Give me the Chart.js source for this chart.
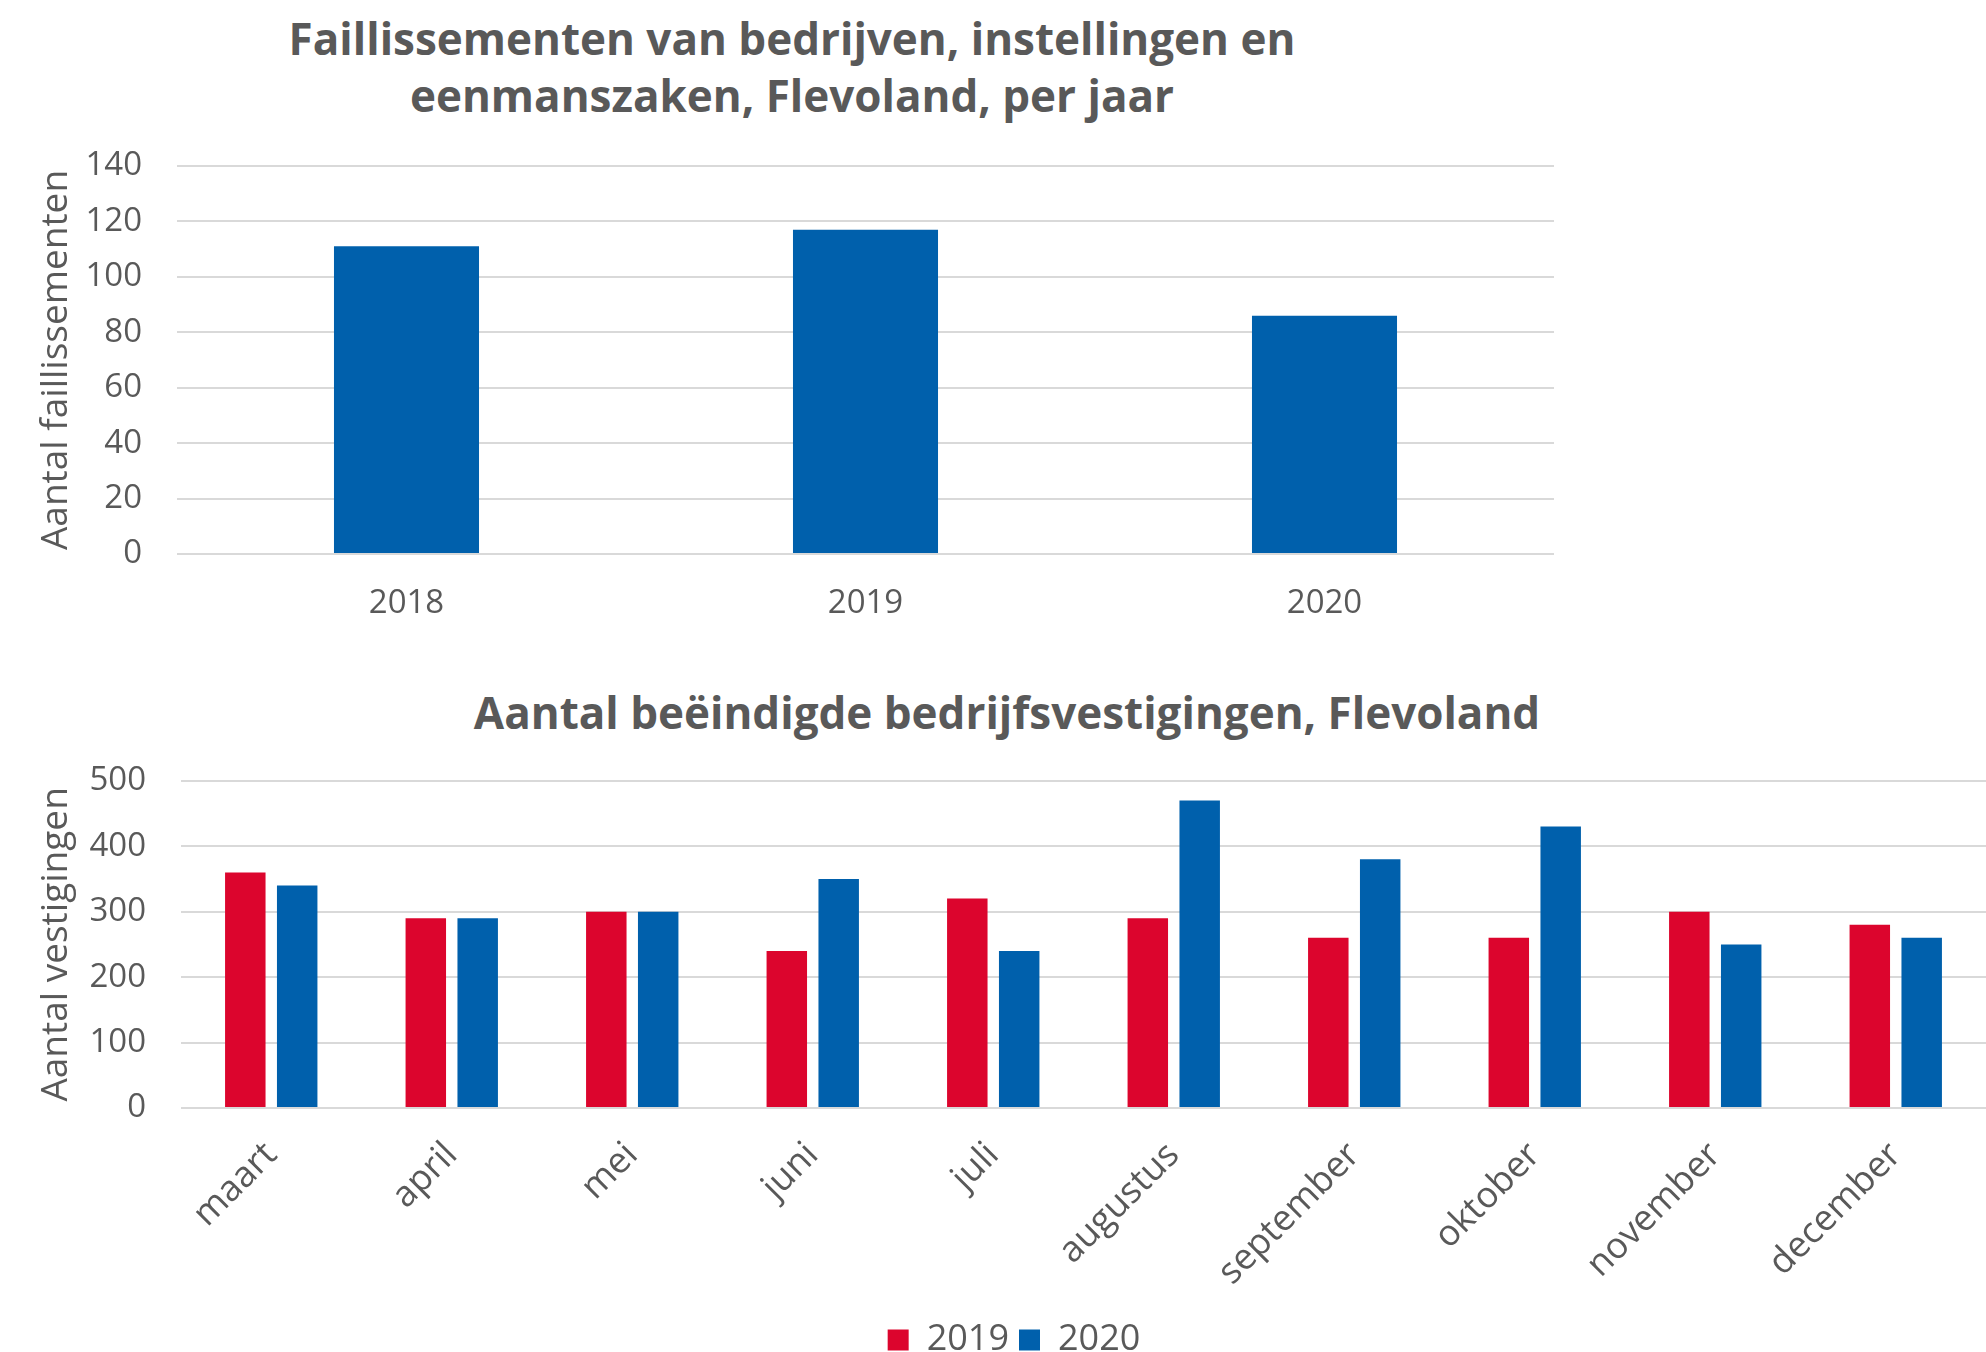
<!DOCTYPE html>
<html>
<head>
<meta charset="utf-8">
<script src="https://cdn.jsdelivr.net/npm/chart.js@4.4.1/dist/chart.umd.min.js"></script>
<style>
  html, body { margin: 0; padding: 0; background: #fff; width: 1986px; height: 1352px; overflow: hidden; position: relative; }
  body { font-family: "Open Sans", "Noto Sans", sans-serif; }
  .title { position: absolute; color: #595959; font-weight: 700; font-size: 44px; line-height: 57px; white-space: nowrap; text-align: center; transform: translateX(-50%); }
  canvas { position: absolute; left: 0; }
</style>
</head>
<body>
<div class="title" id="t1" style="left:792px; top:10px;">Faillissementen van bedrijven, instellingen en<br>eenmanszaken, Flevoland, per jaar</div>
<div class="title" id="t2" style="left:1007px; top:684px;">Aantal beëindigde bedrijfsvestigingen, Flevoland</div>
<canvas id="yearChart" width="1600" height="540" style="top:110px"></canvas>
<canvas id="monthChart" width="1986" height="642" style="top:726px"></canvas>
<script>
  // data
  const years = ['2018', '2019', '2020'];
  const faillissementen = [111, 117, 86];

  const months = ['maart', 'april', 'mei', 'juni', 'juli', 'augustus', 'september', 'oktober', 'november', 'december'];
  const vestigingen2019 = [360, 290, 300, 240, 320, 290, 260, 260, 300, 280];
  const vestigingen2020 = [340, 290, 300, 350, 240, 470, 380, 430, 250, 260];

  const RED = '#DC052D';
  const BLUE = '#0060AC';
  const TEXT = '#595959';
  const GRID = '#D9D9D9';
  const FONT = '"Open Sans", "Noto Sans", sans-serif';

  Chart.defaults.font.family = FONT;
  Chart.defaults.color = TEXT;
  Chart.defaults.animation = false;

  // legend sits a little right of the canvas centre in the original
  const legendShift = {
    id: 'legendShift',
    afterLayout(chart) {
      if (chart.legend) { chart.legend.left += 21; chart.legend.right += 21; }
    }
  };

  // top chart: per jaar
  new Chart(document.getElementById('yearChart'), {
    type: 'bar',
    data: {
      labels: years,
      datasets: [{ label: 'Faillissementen', data: faillissementen, backgroundColor: BLUE,
                   barPercentage: 1, categoryPercentage: 0.316 }]
    },
    options: {
      responsive: false,
      layout: { padding: { top: 56, right: 46, left: 0, bottom: 0 } },
      plugins: { legend: { display: false }, tooltip: { enabled: false } },
      scales: {
        x: {
          grid: { display: false }, border: { display: false },
          ticks: { font: { size: 33 }, color: TEXT, padding: 22 },
          afterFit: s => { s.height = 96; }
        },
        y: {
          min: 0, max: 140,
          grid: { color: GRID, lineWidth: 2, drawTicks: false }, border: { display: false },
          ticks: { stepSize: 20, font: { size: 33 }, color: TEXT, padding: 35 },
          title: { display: true, text: 'Aantal faillissementen', font: { size: 37 }, color: TEXT, padding: { top: 34, bottom: 0 } },
          afterFit: s => { s.width = 177; }
        }
      }
    }
  });

  // bottom chart: per maand
  new Chart(document.getElementById('monthChart'), {
    type: 'bar',
    data: {
      labels: months,
      datasets: [
        { label: '2019', data: vestigingen2019, backgroundColor: RED, barPercentage: 0.78, categoryPercentage: 0.575 },
        { label: '2020', data: vestigingen2020, backgroundColor: BLUE, barPercentage: 0.78, categoryPercentage: 0.575 }
      ]
    },
    options: {
      responsive: false,
      layout: { padding: { top: 0, right: 0, left: 0, bottom: 0 } },
      plugins: {
        tooltip: { enabled: false },
        legend: {
          position: 'bottom',
          labels: { boxWidth: 21, boxHeight: 21, font: { size: 36 }, color: TEXT, padding: 10 }
        }
      },
      scales: {
        x: {
          grid: { display: false }, border: { display: false },
          ticks: { font: { size: 36 }, color: TEXT, padding: 18, minRotation: 45, maxRotation: 45 },
          afterFit: s => { s.height = 204; }
        },
        y: {
          min: 0, max: 500,
          grid: { color: GRID, lineWidth: 2, drawTicks: false }, border: { display: false },
          ticks: { stepSize: 100, font: { size: 33 }, color: TEXT, padding: 35 },
          title: { display: true, text: 'Aantal vestigingen', font: { size: 37 }, color: TEXT, padding: { top: 34, bottom: 0 } },
          afterFit: s => { s.width = 181; }
        }
      }
    },
    plugins: [legendShift]
  });
</script>
</body>
</html>
